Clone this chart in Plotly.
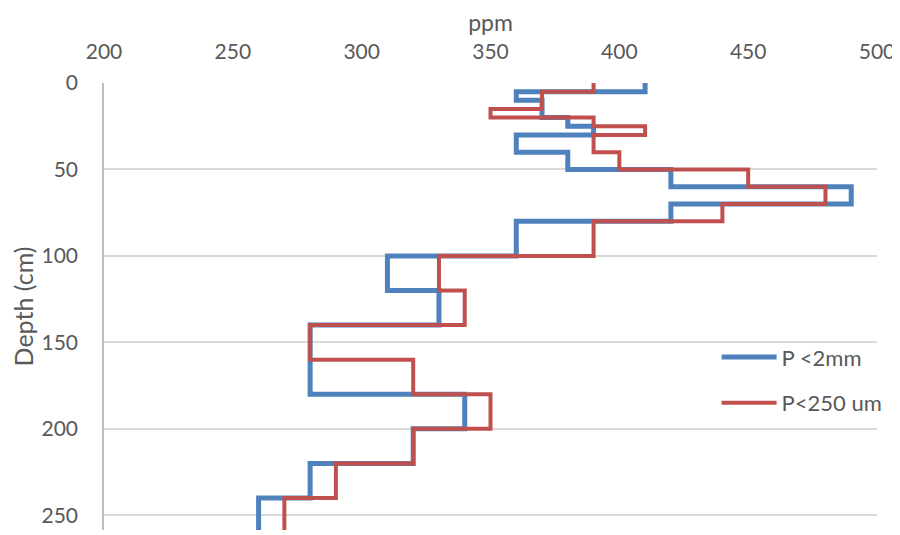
import plotly.graph_objects as go

# depth intervals (top of each layer, cm) and phosphorus values (ppm)
blue_top = [0, 5, 10, 20, 25, 30, 40, 50, 60, 70, 80, 100, 120, 140, 180, 200, 220, 240]
blue_ppm = [410, 360, 370, 380, 390, 360, 380, 420, 490, 420, 360, 310, 330, 280, 340, 320, 280, 260]

red_top = [0, 5, 15, 20, 25, 30, 40, 50, 60, 70, 80, 100, 120, 140, 160, 180, 200, 220, 240]
red_ppm = [390, 370, 350, 390, 410, 390, 400, 450, 480, 440, 390, 330, 340, 280, 320, 350, 320, 290, 270]

max_depth = 260

fig = go.Figure()
fig.add_trace(go.Scatter(
    x=blue_ppm + [blue_ppm[-1]],
    y=blue_top + [max_depth],
    mode='lines',
    name='P <2mm',
    line=dict(color='#4f81bd', width=5, shape='vh'),
    legendgroup='a'
))
fig.add_trace(go.Scatter(
    x=red_ppm + [red_ppm[-1]],
    y=red_top + [max_depth],
    mode='lines',
    name='P<250 um',
    line=dict(color='#c0504d', width=4, shape='vh'),
    legendgroup='b'
))

# page body has an 8px margin, so the figure is 8px smaller each way
fig.update_layout(
    width=892,
    height=527,
    plot_bgcolor='white',
    paper_bgcolor='white',
    font=dict(family='Lato', size=21, color='#595959'),
    margin=dict(l=96, r=23, t=75, b=5),
    showlegend=True,
    legend=dict(
        x=0.7925,
        y=0.335,
        xanchor='left',
        yanchor='middle',
        traceorder='grouped',
        tracegroupgap=14,
        itemwidth=55,
        font=dict(size=22, color='#595959'),
        bgcolor='rgba(255,255,255,0)'
    ),
    xaxis=dict(
        side='top',
        range=[200, 500],
        tickvals=[200, 250, 300, 350, 400, 450, 500],
        showgrid=False,
        zeroline=False,
        showline=False,
        ticks='',
        automargin=False,
        ticklabelstandoff=19,
        title=dict(text='ppm', font=dict(size=23), standoff=6)
    ),
    yaxis=dict(
        range=[258.5, 0],
        tickvals=[0, 50, 100, 150, 200, 250],
        showgrid=True,
        gridcolor='#d9d9d9',
        gridwidth=1.5,
        zeroline=False,
        showline=True,
        linecolor='#bfbfbf',
        linewidth=1.5,
        ticks='',
        automargin=False,
        ticklabelstandoff=20,
        title=dict(text='Depth (cm)', font=dict(size=25), standoff=9)
    ),
)

fig.write_html("out.html")
